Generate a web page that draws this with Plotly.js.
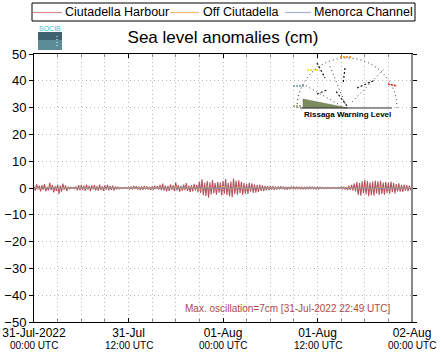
<!DOCTYPE html>
<html><head><meta charset="utf-8">
<script src="https://cdn.plot.ly/plotly-3.0.1.min.js"></script>
<style>html,body{margin:0;padding:0;background:#fff}</style>
</head><body><div id="chart" style="width:441px;height:359px"></div>
<script>
// ---- data ----
var seriesNames = ["Ciutadella Harbour", "Off Ciutadella", "Menorca Channel"];
var startTime = "2022-07-31T00:00:00";
var harbourStepMin = 10;   // minutes between harbour samples
var otherStepMin = 60;     // minutes between offshore samples
var harbour = [
 0.6,-1.0,1.4,-0.5,0.9,-1.3,  1.1,-0.7,1.5,-1.2,0.4,-0.9,  1.9,-0.8,1.2,-1.6,0.7,-1.1,
 1.3,-2.2,0.9,-1.4,1.6,-0.6,  1.0,-1.2,0.5,-0.4,0.3,-0.2,  0.3,-0.3,0.6,-0.9,1.1,-0.8,
 1.2,-0.7,0.9,-1.1,1.3,-0.6,  0.8,-1.2,1.0,-0.5,1.1,-0.9,  0.7,-1.0,1.3,-0.8,0.6,-1.1,
 1.0,-0.6,1.2,-0.9,0.8,-0.7,  0.9,-1.0,0.6,-0.5,0.4,-0.3,  0.2,-0.3,0.2,-0.1,0.3,-0.2,
 0.3,-0.4,0.6,-0.5,0.8,-0.4,  0.7,-0.6,0.5,-0.8,0.6,-0.7,  0.8,-0.5,0.7,-0.6,0.4,-0.8,
 0.6,-0.7,0.9,-0.4,0.7,-0.6,  1.2,-0.8,1.6,-1.0,0.9,-1.3,  0.8,-1.1,1.4,-0.7,1.0,-1.2,
 2.0,-0.9,1.1,-1.4,0.8,-1.0,  1.3,-0.8,1.8,-1.1,0.9,-1.5,  1.1,-1.3,1.5,-0.9,1.2,-1.6,
 2.4,-1.8,3.2,-2.7,1.9,-3.0,  2.6,-3.6,2.1,-2.4,3.0,-1.9,  1.8,-2.5,2.3,-1.7,2.0,-2.8,
 2.7,-2.1,3.3,-2.6,1.9,-3.1,  2.4,-3.4,3.5,-2.2,2.8,-2.5,  2.9,-1.9,2.3,-2.6,1.8,-2.1,
 1.6,-2.2,1.9,-1.4,1.7,-1.8,  1.4,-1.7,1.2,-1.5,1.3,-1.1,  1.0,-1.2,0.8,-0.9,0.7,-0.8,
 0.8,-0.6,0.7,-0.7,0.5,-0.6,  0.6,-0.5,0.7,-0.4,0.5,-0.6,  0.5,-0.6,0.4,-0.5,0.6,-0.4,
 0.4,-0.5,0.5,-0.3,0.4,-0.5,  0.5,-0.4,0.3,-0.5,0.4,-0.3,  0.4,-0.3,0.5,-0.4,0.3,-0.4,
 0.3,-0.4,0.3,-0.2,0.3,-0.3,  0.2,-0.3,0.3,-0.2,0.2,-0.2,  0.3,-0.2,0.2,-0.3,0.2,-0.2,
 0.3,-0.4,0.5,-0.6,0.4,-0.8,  0.9,-0.7,1.2,-1.0,1.6,-1.3,  2.2,-2.6,1.8,-2.9,2.5,-1.9,
 3.0,-2.3,2.6,-3.1,2.1,-2.7,  2.4,-2.9,2.8,-2.0,2.5,-2.6,  2.7,-2.2,2.0,-2.5,2.3,-1.8,
 1.9,-2.1,2.4,-1.6,1.8,-2.0,  1.5,-1.3,1.7,-1.4,1.2,-1.5,  1.3,-1.0,1.1,-1.2,0.9,-0.8,
 0.5
];
var offCiutadella = [
 0.3,-0.4,0.5,-0.3,0.2,-0.2,0.3,-0.3,0.3,-0.2,0.2,-0.1,0.2,-0.2,0.2,-0.2,0.4,-0.3,0.4,-0.4,
 0.3,-0.6,0.5,-0.5,0.6,-0.5,0.4,-0.4,0.3,-0.2,0.2,-0.2,0.2,-0.1,0.2,-0.1,0.1,-0.1,0.1,-0.2,
 0.3,-0.4,0.5,-0.5,0.4,-0.4,0.3,-0.3,0.2
];
var menorcaChannel = [
 0.0,-0.1,0.1,0.0,-0.1,0.1,0.0,-0.1,0.0,0.1,0.0,-0.1,0.0,0.1,-0.1,0.0,0.1,-0.1,0.0,0.1,
 -0.1,0.0,0.1,-0.2,0.1,0.0,-0.1,0.1,0.0,-0.1,0.0,0.1,0.0,-0.1,0.0,0.1,0.0,-0.1,0.0,0.1,
 -0.1,0.0,0.1,-0.1,0.0,0.1,0.0,-0.1,0.0
];
var tickTimes = ["2022-07-31 00:00","2022-07-31 12:00","2022-08-01 00:00","2022-08-01 12:00","2022-08-02 00:00"];
var tickDay = ["31-Jul-2022","31-Jul","01-Aug","01-Aug","02-Aug"];
var tickHour = ["00:00 UTC","12:00 UTC","00:00 UTC","12:00 UTC","00:00 UTC"];
var yTicks = [-50,-40,-30,-20,-10,0,10,20,30,40,50];
var maxNote = "Max. oscillation=7cm [31-Jul-2022 22:49 UTC]";
var plotColors = ["rgba(160,40,52,0.8)", "#f0a040", "#8a90b0"];
var legendColors = ["#d98a92", "#f5bb78", "#a9b0d6"];

// ---- helpers ----
function times(n, stepMin){
  var t0 = new Date(startTime + "Z").getTime(), out = [];
  for (var i=0;i<n;i++){ var d = new Date(t0 + i*stepMin*60000); out.push(d.toISOString().slice(0,19).replace("T"," ")); }
  return out;
}
var W=441, H=359, L=34, R=412, T=54, B=322;
function px(x){ return (x-L)/(R-L); }
function py(y){ return (B-y)/(B-T); }

var traces = [
  {x: times(harbour.length, harbourStepMin), y: harbour, name: seriesNames[0], mode:"lines", line:{color:plotColors[0], width:1.1}},
  {x: times(offCiutadella.length, otherStepMin), y: offCiutadella, name: seriesNames[1], mode:"lines", line:{color:plotColors[1], width:1}},
  {x: times(menorcaChannel.length, otherStepMin), y: menorcaChannel, name: seriesNames[2], mode:"lines", line:{color:plotColors[2], width:1.2}}
];

// decorative inset (Rissaga warning graphic) and logo
var cx=347, cyy=108;
function half(rr){ var kk=rr*0.552;
  return "M "+px(cx-rr)+","+py(cyy)+" C "+px(cx-rr)+","+py(cyy-kk)+" "+px(cx-kk)+","+py(cyy-rr)+" "+px(cx)+","+py(cyy-rr)+
         " C "+px(cx+kk)+","+py(cyy-rr)+" "+px(cx+rr)+","+py(cyy-kk)+" "+px(cx+rr)+","+py(cyy); }
function seg(x0,y0,x1,y1,color,w,dash){ return {type:"line", xref:"paper", yref:"paper", x0:px(x0), y0:py(y0), x1:px(x1), y1:py(y1), line:{color:color, width:w||1, dash:dash||"solid"}}; }
var dotted = "1px,3px";
var shapes = [
  {type:"path", xref:"paper", yref:"paper", path: half(50), line:{color:"#333", width:1, dash:dotted}},
  seg(cx-2,cyy,cx-44,cyy-24,"#333",1,dotted), seg(cx,cyy,cx-18,cyy-44,"#333",1,dotted),
  seg(cx,cyy-2,cx-12,cyy-18,"#111",1.2,"2px,2px"), seg(cx-2,cyy-40,cx-4,cyy-24,"#111",1.2,"2px,2px"),
  seg(cx+5,cyy-6,cx+38,cyy-40,"#333",1,dotted), seg(cx+10,cyy-20,cx+28,cyy-28,"#111",1.2,"2px,2px"),
  seg(cx-30,cyy-45,cx-22,cyy-30,"#111",1.2,"2px,2px"), seg(cx-30,cyy-14,cx-20,cyy-18,"#111",1.2,"2px,2px"),
  {type:"path", xref:"paper", yref:"paper", path:"M "+px(303)+","+py(108)+" L "+px(303)+","+py(99)+" L "+px(348)+","+py(108)+" Z", fillcolor:"#7d8a60", line:{color:"#6a7550", width:0.5}},
  seg(300,108,392,108,"#333",1),
  seg(340,57,352,57,"#f08000",1.5,"2px,1px"), seg(307,70,320,70,"#e8e000",1.5,"2px,1px"),
  seg(293,86,305,86,"#6a9a9a",1.5,"2px,1px"), seg(293,106,302,106,"#8a9a6a",1.5,"2px,1px"),
  seg(388,84,397,86,"#e02020",1.5,"2px,1px"),
  {type:"rect", xref:"paper", yref:"paper", x0:px(38), x1:px(62), y0:py(50), y1:py(32), fillcolor:"#5a8c98", line:{width:0}},
  {type:"rect", xref:"paper", yref:"paper", x0:px(38), x1:px(62), y0:py(40), y1:py(32), fillcolor:"#3e6270", line:{width:0}},
  seg(57,36,57,48,"#ffffff",1,"1px,2px"),
  {type:"line", xref:"paper", yref:"paper", x0:1, x1:1, y0:0, y1:1, line:{color:"#888", width:2}},
  // legend box
  {type:"rect", xref:"paper", yref:"paper", x0:px(32), x1:px(415), y0:py(21), y1:py(3), fillcolor:"#fff", line:{color:"#000", width:1}}
];

var ann = [
  {xref:"paper", yref:"paper", x:px(393), y:py(308), xanchor:"right", yanchor:"middle", showarrow:false,
   text: maxNote, font:{size:10, color:"#b04848"}},
  {xref:"paper", yref:"paper", x:px(347), y:py(114), xanchor:"center", yanchor:"middle", showarrow:false,
   text:"<b>Rissaga Warning Level</b>", font:{size:8, color:"#000"}},
  {xref:"paper", yref:"paper", x:px(50), y:py(28), xanchor:"center", yanchor:"middle", showarrow:false,
   text:"SOCIB", font:{size:7, color:"#3cc0d0"}}
];
tickTimes.forEach(function(t,i){
  ann.push({xref:"x", yref:"paper", x:t, y:py(345), xanchor:"center", yanchor:"middle", showarrow:false,
            text: tickHour[i], font:{size:10, color:"#000"}});
});
// manual legend entries (line sample + label) from the series names / colours
var legLine = [[33,62],[170,199],[285,311]], legText = [64,202,313];
seriesNames.forEach(function(n,i){
  shapes.push(seg(legLine[i][0], 12.5, legLine[i][1], 12.5, legendColors[i], 1.2));
  ann.push({xref:"paper", yref:"paper", x:px(legText[i]), y:py(12.5), xanchor:"left", yanchor:"middle", showarrow:false,
            text:n, font:{size:12.5, color:"#000"}, xshift:-1});
});

var gridCol = "#b8b8b8";
var layout = {
  width:W, height:H,
  margin:{l:L, r:W-R, t:T, b:H-B, pad:0},
  paper_bgcolor:"#fff", plot_bgcolor:"#fff",
  font:{family:"Liberation Sans, Arial, sans-serif", color:"#000", size:13},
  title:{text:"Sea level anomalies (cm)", font:{size:17, color:"#000"}, x:px(223), xref:"paper", xanchor:"center", y:1-37/H, yanchor:"middle"},
  showlegend:false,
  xaxis:{type:"date", range:[tickTimes[0], tickTimes[4]], tickmode:"array", tickvals:tickTimes, ticktext: tickDay,
         ticklabeloverflow:"allow",
         ticks:"inside", ticklen:4, tickcolor:"#000", showline:true, linecolor:"#000", linewidth:1, mirror:"ticks",
         showgrid:true, gridcolor:gridCol, griddash:dotted, gridwidth:1, tickfont:{size:12}, zeroline:false,
         minor:{dtick:3*3600000, showgrid:true, gridcolor:gridCol, griddash:dotted, ticks:"inside", ticklen:3, tickcolor:"#888"}},
  yaxis:{range:[-50,50], tickmode:"array", tickvals:yTicks, ticks:"outside", ticklen:4, tickcolor:"#000",
         showline:true, linecolor:"#000", linewidth:1, mirror:"ticks", showgrid:true, gridcolor:gridCol, griddash:dotted,
         zeroline:false, tickfont:{size:13}},
  shapes: shapes,
  annotations: ann
};
Plotly.newPlot("chart", traces, layout, {displayModeBar:false, staticPlot:true});
</script></body></html>
